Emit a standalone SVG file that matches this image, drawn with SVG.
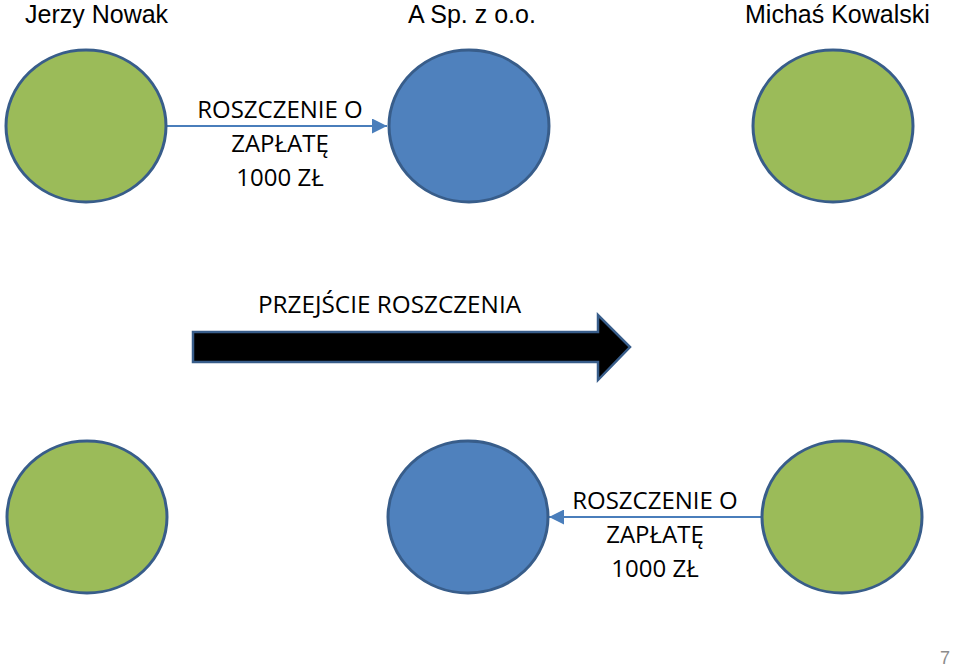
<svg xmlns="http://www.w3.org/2000/svg" width="960" height="668" viewBox="0 0 960 668">
<defs>
<style>
.t{font-family:"Open Sans","Liberation Sans",sans-serif;fill:#000}
.hd{font-family:"Liberation Sans",Arial,sans-serif;font-size:25px;fill:#000}
.h{font-size:24.3px}
.l{font-size:24px;text-anchor:middle}
.g{fill:#9bbb59;stroke:#385d8a;stroke-width:3}
.b{fill:#4f81bd;stroke:#385d8a;stroke-width:3}
.c{stroke:#4a7ebb;stroke-width:2;fill:none}
</style>
<marker id="ah2" viewBox="0 0 10 10" refX="10" refY="5" markerWidth="15" markerHeight="15" markerUnits="userSpaceOnUse" orient="auto">
<path d="M0,0 L10,5 L0,10 z" fill="#4a7ebb"/>
</marker>
</defs>
<rect width="960" height="668" fill="#fff"/>
<g id="headers">
<text class="hd" x="25" y="23">Jerzy Nowak</text>
<text class="hd" x="408" y="23">A Sp. z o.o.</text>
<text class="hd" x="745" y="23">Michaś Kowalski</text>
</g>
<g id="connectors">
<line class="c" x1="167" y1="126" x2="387" y2="126" marker-end="url(#ah2)"/>
<line class="c" x1="761" y1="517" x2="549" y2="517" marker-end="url(#ah2)"/>
</g>
<g id="node-jerzy-top"><ellipse class="g" cx="86" cy="126" rx="80" ry="76"/></g>
<g id="node-spolka-top"><ellipse class="b" cx="469" cy="126" rx="80" ry="76"/></g>
<g id="node-michas-top"><ellipse class="g" cx="833" cy="126" rx="80" ry="76"/></g>
<g id="node-jerzy-bottom"><ellipse class="g" cx="87" cy="517" rx="80" ry="76"/></g>
<g id="node-spolka-bottom"><ellipse class="b" cx="468" cy="517" rx="80" ry="76"/></g>
<g id="node-michas-bottom"><ellipse class="g" cx="842" cy="517" rx="80" ry="76"/></g>
<g id="label-top">
<text class="t l" x="280" y="118">ROSZCZENIE O</text>
<text class="t l" x="280" y="152">ZAPŁATĘ</text>
<text class="t l" x="280" y="186">1000 ZŁ</text>
</g>
<g id="label-bottom">
<text class="t l" x="655" y="509">ROSZCZENIE O</text>
<text class="t l" x="655" y="543">ZAPŁATĘ</text>
<text class="t l" x="655" y="577">1000 ZŁ</text>
</g>
<g id="transfer">
<text class="t h" x="258" y="313">PRZEJŚCIE ROSZCZENIA</text>
<path d="M193,332 L598,332 L598,315 L630,347 L598,380 L598,362 L193,362 Z" fill="#000" stroke="#385d8a" stroke-width="2.5" stroke-linejoin="miter"/>
</g>
<text x="940" y="664" font-family="Liberation Sans, sans-serif" font-size="18" fill="#8c8c8c">7</text>
</svg>
